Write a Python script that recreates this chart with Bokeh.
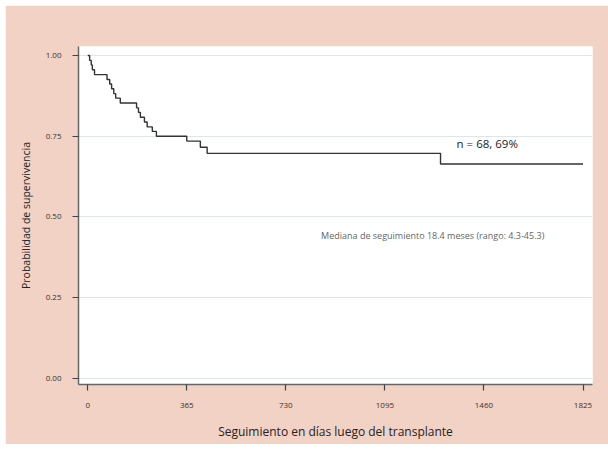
from bokeh.plotting import figure
from bokeh.models import Range1d, FixedTicker, NumeralTickFormatter, Label
from bokeh.embed import file_html
from bokeh.resources import INLINE

# Kaplan-Meier step data (days, survival probability)
days = [0, 7, 13, 17, 25, 71, 81, 88, 96, 103, 120, 180, 187, 194, 209, 219, 238, 253, 365, 415, 440, 1300, 1825]
surv = [1.0, 0.985, 0.971, 0.956, 0.941, 0.926, 0.912, 0.897, 0.882, 0.868, 0.853,
        0.838, 0.824, 0.809, 0.794, 0.779, 0.765, 0.750, 0.735, 0.716, 0.697, 0.664, 0.664]
x_ticks = [0, 365, 730, 1095, 1460, 1825]
y_ticks = [0.0, 0.25, 0.5, 0.75, 1.0]

FONT = "Open Sans"
PEACH = "#f2d2c4"

p = figure(width=603, height=439, output_backend="svg", toolbar_location=None,
           x_range=Range1d(-34, 1860), y_range=Range1d(-0.019, 1.028),
           min_border_left=73, min_border_right=16, min_border_top=41, min_border_bottom=60)
p.styles = {"margin-left": "5px", "margin-top": "5px"}
p.border_fill_color = PEACH
p.background_fill_color = "white"
p.outline_line_color = None

p.step(days, surv, mode="after", line_color="#333333", line_width=1.4)

p.xaxis.ticker = FixedTicker(ticks=x_ticks)
p.yaxis.ticker = FixedTicker(ticks=y_ticks)
p.yaxis.formatter = NumeralTickFormatter(format="0.00")
p.xgrid.grid_line_color = None
p.ygrid.grid_line_color = "#dde6e8"
p.ygrid.grid_line_width = 1

for ax in (p.xaxis, p.yaxis):
    ax.axis_line_color = "#666666"
    ax.axis_line_width = 1.5
    ax.major_tick_line_color = "#444444"
    ax.major_tick_line_width = 1.2
    ax.major_tick_in = 0
    ax.major_tick_out = 6
    ax.minor_tick_line_color = None
    ax.major_label_text_font = FONT
    ax.major_label_text_font_size = "8px"
    ax.major_label_text_color = "#333333"
    ax.axis_label_text_font = FONT
    ax.axis_label_text_font_style = "normal"
    ax.axis_label_text_color = "#222222"

p.xaxis.axis_label_text_font_size = "12px"
p.yaxis.axis_label_text_font_size = "10.5px"
p.xaxis.major_label_standoff = 12
p.yaxis.major_label_standoff = 11
p.xaxis.axis_label_standoff = 12
p.yaxis.axis_label_standoff = 10
p.xaxis.axis_label = "Seguimiento en días luego del transplante"
p.yaxis.axis_label = "Probabilidad de supervivencia"

p.add_layout(Label(x=1359, y=0.727, text="n = 68, 69%", text_font=FONT,
                   text_font_size="11.5px", text_color="#222222", text_baseline="middle"))
p.add_layout(Label(x=860, y=0.442, text="Mediana de seguimiento 18.4 meses (rango: 4.3-45.3)",
                   text_font=FONT, text_font_size="9px", text_color="#666666",
                   text_baseline="middle"))

open("out.html", "w").write(file_html(p, INLINE))
